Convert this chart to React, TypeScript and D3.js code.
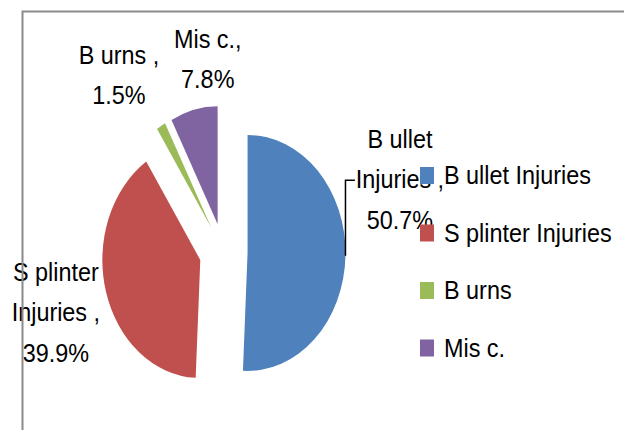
import * as d3 from "d3";

// values (percent of injuries)
const categories = ["B ullet Injuries", "S plinter Injuries", "B urns", "Mis c."];
const shares = [50.7, 39.9, 1.5, 7.8];
const colors = ["#4F81BD", "#C0504D", "#9BBB59", "#8064A2"];
// data label text above the percentage, as it is wrapped in the picture
const labelNames = [["B ullet", "Injuries ,"], ["S plinter", "Injuries ,"], ["B urns ,"], ["Mis c.,"]];

const W = 624;
const H = 430;
const cx = 223.5;
const cy = 252.3;
const R = 118;
const squash = 0.83; // the pie is drawn a bit narrow, like the original
const explode = 29;
const labelR = 212;
const lineH = 40.5;
const font = "'Liberation Sans', Arial, sans-serif";
const fontSize = 26;
const textSquash = 0.9; // narrow, tall lettering
// hand-moved data labels
const labelNudge = [
  [0.5, -77],
  [2, 4.7],
  [-14.4, 5.8],
  [27, 13.3],
];

export default function App() {
  const pie = d3.pie<number>().sort(null).value((d) => d);
  const arcs = pie(shares);
  const arc = d3.arc<d3.PieArcDatum<number>>().innerRadius(0).outerRadius(R);
  const mid = (a: d3.PieArcDatum<number>) => (a.startAngle + a.endAngle) / 2;

  const legendY = d3
    .scalePoint<string>()
    .domain(categories)
    .range([184, 356.5]);

  const labels = arcs.map((a, i) => {
    const m = mid(a);
    const x = cx + squash * labelR * Math.sin(m) + labelNudge[i][0];
    const y = cy - labelR * Math.cos(m) + labelNudge[i][1];
    const lines = [...labelNames[i], `${shares[i]}%`];
    return { x, y, lines };
  });

  // leader line for the moved Bullet label
  const bm = mid(arcs[0]);
  const lx0 = cx + squash * (R + explode) * Math.sin(bm);
  const ly0 = cy - (R + explode) * Math.cos(bm);
  const ly1 = labels[0].y;
  const lx1 = labels[0].x - 45;

  return (
    <svg
      width={W}
      height={H}
      style={{ position: "fixed", left: 0, top: 0, background: "#fff" }}
    >
      <rect width={W} height={H} fill="#fff" />
      <g transform={`translate(${cx},${cy}) scale(${squash},1)`}>
        {arcs.map((a, i) => {
          const m = mid(a);
          return (
            <path
              key={i}
              d={arc(a) || ""}
              fill={colors[i]}
              transform={`translate(${explode * Math.sin(m)},${-explode * Math.cos(m)})`}
            />
          );
        })}
      </g>
      <polyline
        points={`${lx0},${ly0} ${lx0},${ly1} ${lx1},${ly1}`}
        fill="none"
        stroke="#000"
        strokeWidth={1.5}
      />
      {labels.map((l, i) => (
        <g key={i} transform={`translate(${l.x},0) scale(${textSquash},1)`}>
          <text textAnchor="middle" fontFamily={font} fontSize={fontSize} fill="#000">
            {l.lines.map((t, j) => (
              <tspan
                key={j}
                x={0}
                y={l.y + (j - (l.lines.length - 1) / 2) * lineH + 8}
                style={{ whiteSpace: "pre" }}
              >
                {t}
              </tspan>
            ))}
          </text>
        </g>
      ))}
      {categories.map((c, i) => (
        <g key={c} transform={`translate(420,${legendY(c)})`}>
          <rect x={0} y={-17} width={14} height={17} fill={colors[i]} />
          <text
            transform={`translate(24,0) scale(${textSquash},1)`}
            fontFamily={font}
            fontSize={fontSize}
            fill="#000"
            style={{ whiteSpace: "pre" }}
          >
            {c}
          </text>
        </g>
      ))}
      <rect
        x={22.5}
        y={11.5}
        width={W + 100}
        height={H + 100}
        fill="none"
        stroke="#8a8a8a"
        strokeWidth={2}
      />
    </svg>
  );
}
